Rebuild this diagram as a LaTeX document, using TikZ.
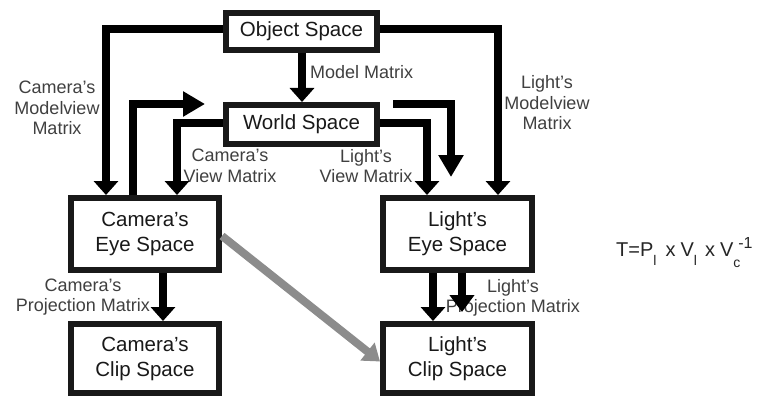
\documentclass[tikz,border=0pt]{standalone}
\usepackage{fontspec}
\setmainfont{Liberation Sans}
\usetikzlibrary{arrows.meta}
\newcommand\eqsub[1]{\raisebox{-9pt}{\fontsize{14}{14}\selectfont #1}}
\newcommand\eqsubsup[2]{\makebox[0pt][l]{\raisebox{-11pt}{\fontsize{14}{14}\selectfont #1}}\hspace{5pt}\raisebox{8pt}{\fontsize{16}{16}\selectfont #2}}
\begin{document}
\begin{tikzpicture}[x=1pt,y=-1pt,
  box/.style={draw=black!90, line width=6pt, fill=white, align=center, inner sep=0pt,
    font=\fontsize{20.5}{25}\selectfont, text=black!90},
  lbl/.style={align=center, inner sep=0pt, font=\fontsize{18}{20.5}\selectfont, text=black!75},
  conn/.style={line width=8pt, draw=black, -{Triangle[width=24pt,length=14pt]}},
  bigtip/.style={-{Triangle[width=24pt,length=22pt]}},
  midtip/.style={-{Triangle[width=24pt,length=17pt]}},
  grayconn/.style={line width=8pt, draw=black!45, -{Triangle[width=22pt,length=16pt]}}
]
\fill[white] (0,0) rectangle (761,396);
\useasboundingbox (0,0) rectangle (761,396);

% labels
\node[lbl] (lcm) at (57,108) {Camera's\\Modelview\\Matrix};
\node[lbl] (llm) at (547,103) {Light's\\Modelview\\Matrix};
\node[lbl, anchor=west] (lmm) at (310,72) {Model Matrix};
\node[lbl] (lcv) at (230,166) {Camera's\\View Matrix};
\node[lbl] (llv) at (366,166) {Light's\\View Matrix};
\node[lbl] (lcp) at (83,297) {Camera's\\Projection Matrix};
\node[lbl] (llp) at (513,298) {Light's\\Projection Matrix};
\node[anchor=base west, inner sep=0pt, font=\fontsize{20}{22}\selectfont, text=black!85] (eq)
  at (616,256) {T=P\eqsub{l}\hspace{9pt}x\hspace{5pt}V\eqsub{l}\hspace{8pt}x\hspace{5pt}V\eqsubsup{c}{-1}};

% boxes
\node[box, minimum width=151pt, minimum height=37pt] (obj) at (301.5,31.5) {Object Space};
\node[box, minimum width=151pt, minimum height=39pt] (world) at (301.5,124.5) {World Space};
\node[box, minimum width=148pt, minimum height=72pt] (ceye) at (145,234) {Camera's\\Eye Space};
\node[box, minimum width=148pt, minimum height=69pt] (cclip) at (145,358.5) {Camera's\\Clip Space};
\node[box, minimum width=149pt, minimum height=72pt] (leye) at (457.5,234) {Light's\\Eye Space};
\node[box, minimum width=149pt, minimum height=69pt] (lclip) at (457.5,358.5) {Light's\\Clip Space};

\coordinate (c1) at (205,104);
\coordinate (c2) at (393,104);
\coordinate (c3) at (451,177);

% connectors
\draw[conn] ([yshift=2.5pt]obj.west) -| ([xshift=-39pt]ceye.north);
\draw[conn] ([yshift=2.5pt]obj.east) -| ([xshift=40.5pt]leye.north);
\draw[conn] ([xshift=0.5pt]obj.south) -- ([xshift=0.5pt]world.north);
\draw[conn] ([yshift=1.5pt]world.west) -| ([xshift=32pt]ceye.north);
\draw[conn] ([yshift=1.5pt]world.east) -| ([xshift=-30.5pt]leye.north);
\draw[conn,bigtip] ([xshift=-12pt]ceye.north) |- (c1);
\draw[conn,bigtip] (c2) -| (c3);
\draw[conn] ([xshift=18pt]ceye.south) -- ([xshift=18pt]cclip.north);
\draw[conn] ([xshift=-24.5pt]leye.south) -- ([xshift=-24.5pt]lclip.north);
\draw[conn,midtip] ([xshift=4.5pt]leye.south) -- ([xshift=4.5pt,yshift=9pt]lclip.north);
\draw[grayconn] ([yshift=-2pt]ceye.east) -- ([yshift=-3pt]lclip.west);
\end{tikzpicture}
\end{document}
